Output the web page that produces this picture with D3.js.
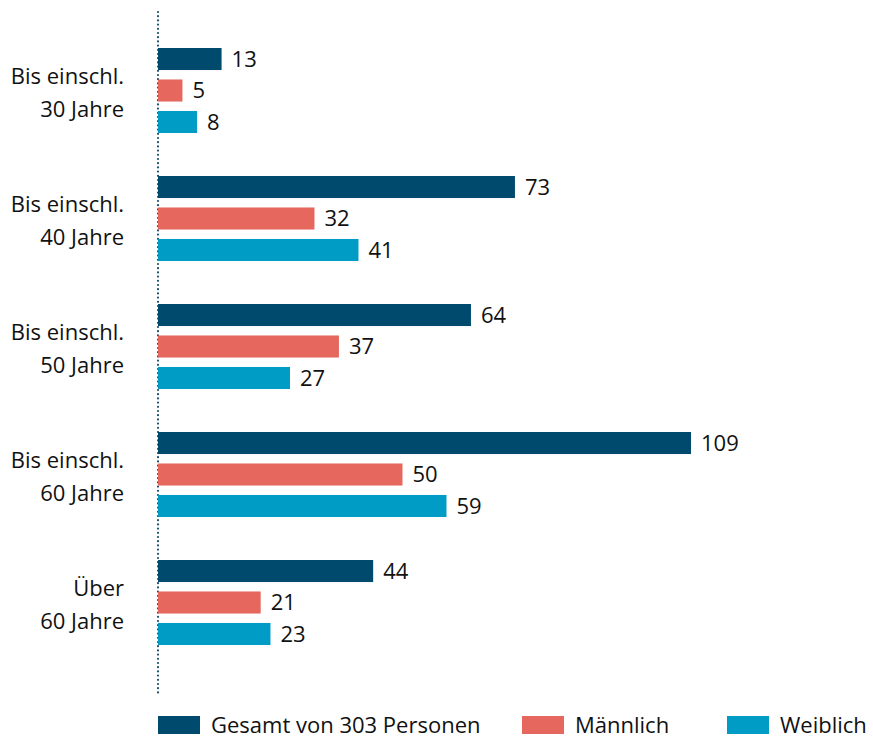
<!DOCTYPE html>
<html>
<head>
<meta charset="utf-8">
<script src="https://cdn.jsdelivr.net/npm/d3@7"></script>
<style>
  body { margin: 0; background: #fff; }
  text { font-family: "Open Sans", "Noto Sans", sans-serif; fill: #111; }
</style>
</head>
<body>
<div id="chart"></div>
<script>
var categories = [["Bis einschl.", "30 Jahre"], ["Bis einschl.", "40 Jahre"], ["Bis einschl.", "50 Jahre"],
                  ["Bis einschl.", "60 Jahre"], ["Über", "60 Jahre"]];
var seriesNames = ["Gesamt von 303 Personen", "Männlich", "Weiblich"];
var seriesColors = ["#004a6e", "#e5675e", "#009cc6"];
var gesamt = [13, 73, 64, 109, 44];
var maennlich = [5, 32, 37, 50, 21];
var weiblich = [8, 41, 27, 59, 23];

var width = 873, height = 740;
var seriesValues = [gesamt, maennlich, weiblich];

var svg = d3.select("#chart").append("svg")
    .attr("width", width)
    .attr("height", height);

// scales
var x = d3.scaleLinear().domain([0, 109]).range([158, 691]);
var y0 = d3.scaleBand()
    .domain(d3.range(categories.length))
    .range([26.5, 666.5]);
var y1 = d3.scaleBand()
    .domain(d3.range(seriesNames.length))
    .range([21.5, 106.5])
    .paddingInner(0.3);

// dotted axis line
svg.append("line")
    .attr("x1", x(0)).attr("x2", x(0))
    .attr("y1", 12).attr("y2", 695)
    .attr("stroke", "#1d4f6e")
    .attr("stroke-width", 2.2)
    .attr("stroke-linecap", "round")
    .attr("stroke-dasharray", "0,4.2");

var groups = svg.selectAll("g.group")
    .data(categories)
  .enter().append("g")
    .attr("class", "group")
    .attr("transform", function(d, i) { return "translate(0," + y0(i) + ")"; });

// category labels
groups.each(function(d, i) {
    var g = d3.select(this);
    var c = y0.bandwidth() / 2;
    g.append("text").attr("x", 124).attr("y", c - 7)
        .attr("text-anchor", "end").style("font-size", "22px").text(d[0]);
    g.append("text").attr("x", 124).attr("y", c + 26.5)
        .attr("text-anchor", "end").style("font-size", "22px").text(d[1]);
});

// bars and value labels
groups.each(function(d, i) {
    var g = d3.select(this);
    var rows = seriesValues.map(function(s, k) { return {k: k, v: s[i]}; });
    g.selectAll("rect").data(rows).enter().append("rect")
        .attr("x", x(0))
        .attr("y", function(r) { return y1(r.k); })
        .attr("width", function(r) { return x(r.v) - x(0); })
        .attr("height", y1.bandwidth())
        .attr("fill", function(r) { return seriesColors[r.k]; });
    g.selectAll("text.val").data(rows).enter().append("text")
        .attr("class", "val")
        .attr("x", function(r) { return x(r.v) + 10; })
        .attr("y", function(r) { return y1(r.k) + y1.bandwidth() / 2; })
        .attr("dy", "0.36em")
        .style("font-size", "22px")
        .text(function(r) { return r.v; });
});

// legend
var legendX = [158, 522, 727];
var legend = svg.selectAll("g.legend")
    .data(seriesNames)
  .enter().append("g")
    .attr("class", "legend")
    .attr("transform", function(d, i) { return "translate(" + legendX[i] + ",716)"; });
legend.append("rect")
    .attr("width", 42).attr("height", 18)
    .attr("fill", function(d, i) { return seriesColors[i]; });
legend.append("text")
    .attr("x", 53).attr("y", 17)
    .style("font-size", "22px")
    .text(function(d) { return d; });
</script>
</body>
</html>
